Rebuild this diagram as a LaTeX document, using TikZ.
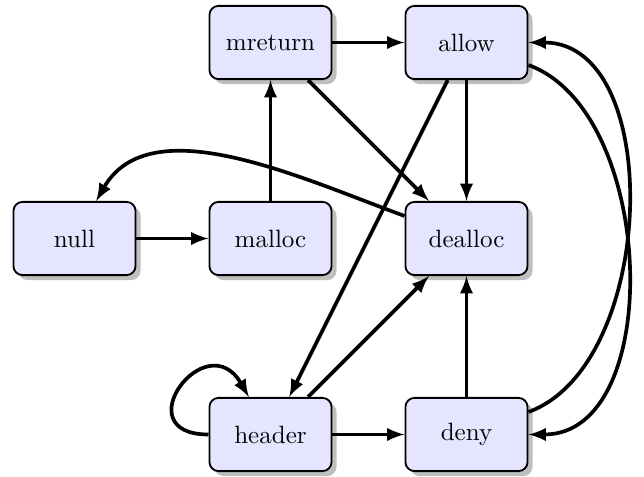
\documentclass[tikz,border=0pt]{standalone}
\usetikzlibrary{shadows}
\begin{document}
\begin{tikzpicture}[
  state/.style={draw, thick, rounded corners=4pt, fill=blue!10, drop shadow,
    minimum width=53.2pt, minimum height=31.9pt, inner sep=2pt,
    font=\fontsize{10.9pt}{13pt}\selectfont},
  edge/.style={-latex, ultra thick}
]
\useasboundingbox (-1.1403,-3.6505) rectangle (8.717,3.6505);
\node[state] (null)    at (0,0)  {null};
\node[state] (malloc)  at (3,0)  {malloc};
\node[state] (dealloc) at (6,0)  {dealloc};
\node[state] (mreturn) at (3,3)  {mreturn};
\node[state] (allow)   at (6,3)  {allow};
\node[state] (header)  at (3,-3) {header};
\node[state] (deny)    at (6,-3) {deny};

\draw[edge] (null) -- (malloc);
\draw[edge] (malloc) -- (mreturn);
\draw[edge] (mreturn) -- (allow);
\draw[edge] (mreturn) -- (dealloc);
\draw[edge] (allow) -- (dealloc);
\draw[edge] (allow) -- (header);
\draw[edge] (dealloc) to[out=160,in=60,looseness=0.9] (null);
\draw[edge] (header) -- (dealloc);
\draw[edge] (header) to[out=180,in=120,looseness=1,min distance=1.3cm] (header);
\draw[edge] (header) -- (deny);
\draw[edge] (deny) -- (dealloc);
\draw[edge] (deny) to[out=20,in=0,looseness=0.95] (allow);
\draw[edge] (allow) to[out=-20,in=0,looseness=0.95] (deny);
\end{tikzpicture}
\end{document}
